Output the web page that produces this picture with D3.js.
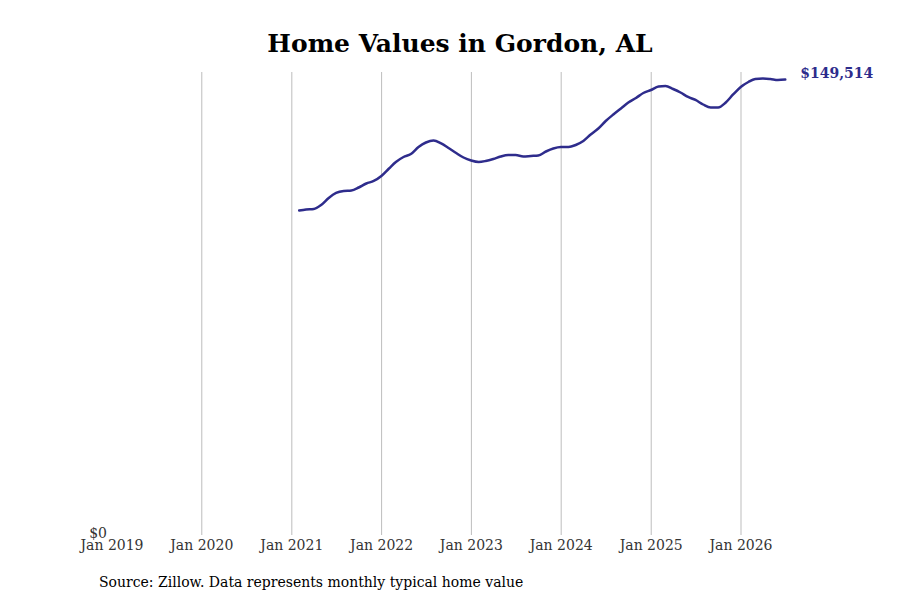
<!DOCTYPE html>
<html>
<head>
<meta charset="utf-8">
<script src="https://cdn.jsdelivr.net/npm/d3@7"></script>
<style>
    body { margin: 0; background: #ffffff; }
    svg text { font-family: 'DejaVu Serif', serif; }
</style>
</head>
<body>
<div id="chart"></div>
<script>
// monthly typical home value (end of month), Jan 2021 .. Jun 2026
const startMonth = '2021-01-31';
const homeValues = [
    106500, 106860, 107030, 108340, 110640, 112280, 112940, 113100, 114080, 115400, 116220, 117860,
    120320, 122460, 124100, 125080, 127380, 128860, 129510, 128530, 127050, 125410, 123930, 122950,
    122460, 122780, 123440, 124260, 124750, 124750, 124260, 124430, 124590, 125900, 126890, 127380,
    127380, 128040, 129350, 131480, 133450, 135920, 138050, 140020, 141990, 143470, 145110, 146090,
    147240, 147410, 146420, 145270, 143800, 142810, 141330, 140350, 140350, 141990, 144620, 147080,
    148720, 149700, 149870, 149700, 149380, 149514,
];
const tickYears = [2019, 2020, 2021, 2022, 2023, 2024, 2025, 2026];
const yTicks = [0];
const titleText = 'Home Values in Gordon, AL';
const sourceText = 'Source: Zillow. Data represents monthly typical home value';

const width = 900;
const height = 600;
const lineColor = '#2e2c8c';

// month-end dates
const first = d3.timeParse('%Y-%m-%d')(startMonth);
const data = homeValues.map((v, i) => {
    const d = d3.timeMonth.offset(new Date(first.getFullYear(), first.getMonth(), 1), i + 1);
    return { date: d3.timeDay.offset(d, -1), value: v };
});

const svg = d3.select('#chart')
    .append('svg')
    .attr('width', width)
    .attr('height', height);

const x = d3.scaleTime()
    .domain([new Date(2019, 0, 1), new Date(2026, 0, 1)])
    .range([112, 741]);
const y = d3.scaleLinear()
    .domain([0, 152000])
    .range([535, 72]);

svg.append('text')
    .attr('x', 460)
    .attr('y', 52)
    .attr('text-anchor', 'middle')
    .style('font-size', '25px')
    .style('font-weight', 'bold')
    .attr('fill', '#000')
    .text(titleText);

// vertical grid (skip first year)
svg.append('g')
    .selectAll('line')
    .data(tickYears.slice(1))
    .join('line')
    .attr('x1', (d) => x(new Date(d, 0, 1)))
    .attr('x2', (d) => x(new Date(d, 0, 1)))
    .attr('y1', y.range()[1])
    .attr('y2', y.range()[0])
    .attr('stroke', '#bdbdbd')
    .attr('stroke-width', 1);

svg.append('g')
    .selectAll('text')
    .data(tickYears)
    .join('text')
    .attr('x', (d) => x(new Date(d, 0, 1)))
    .attr('y', 550)
    .attr('text-anchor', 'middle')
    .style('font-size', '14px')
    .attr('fill', '#333')
    .text((d) => d3.timeFormat('%b %Y')(new Date(d, 0, 1)));

svg.append('g')
    .selectAll('text')
    .data(yTicks)
    .join('text')
    .attr('x', 107)
    .attr('y', y(0) - 1)
    .attr('dy', '0.32em')
    .attr('text-anchor', 'end')
    .style('font-size', '14px')
    .attr('fill', '#333')
    .text((d) => d3.format('$,')(d));

const line = d3.line()
    .x((d) => x(d.date))
    .y((d) => y(d.value))
    .curve(d3.curveMonotoneX);

svg.append('path')
    .datum(data)
    .attr('d', line)
    .attr('fill', 'none')
    .attr('stroke', lineColor)
    .attr('stroke-width', 2.5)
    .attr('stroke-linejoin', 'round')
    .attr('stroke-linecap', 'round');

const last = data[data.length - 1];
svg.append('text')
    .attr('x', x(last.date) + 15)
    .attr('y', y(last.value) - 6)
    .attr('dy', '0.32em')
    .style('font-size', '14px')
    .style('font-weight', 'bold')
    .attr('fill', lineColor)
    .text(d3.format('$,')(last.value));

svg.append('text')
    .attr('x', 99)
    .attr('y', 587)
    .style('font-size', '14px')
    .attr('fill', '#000')
    .text(sourceText);
</script>
</body>
</html>
